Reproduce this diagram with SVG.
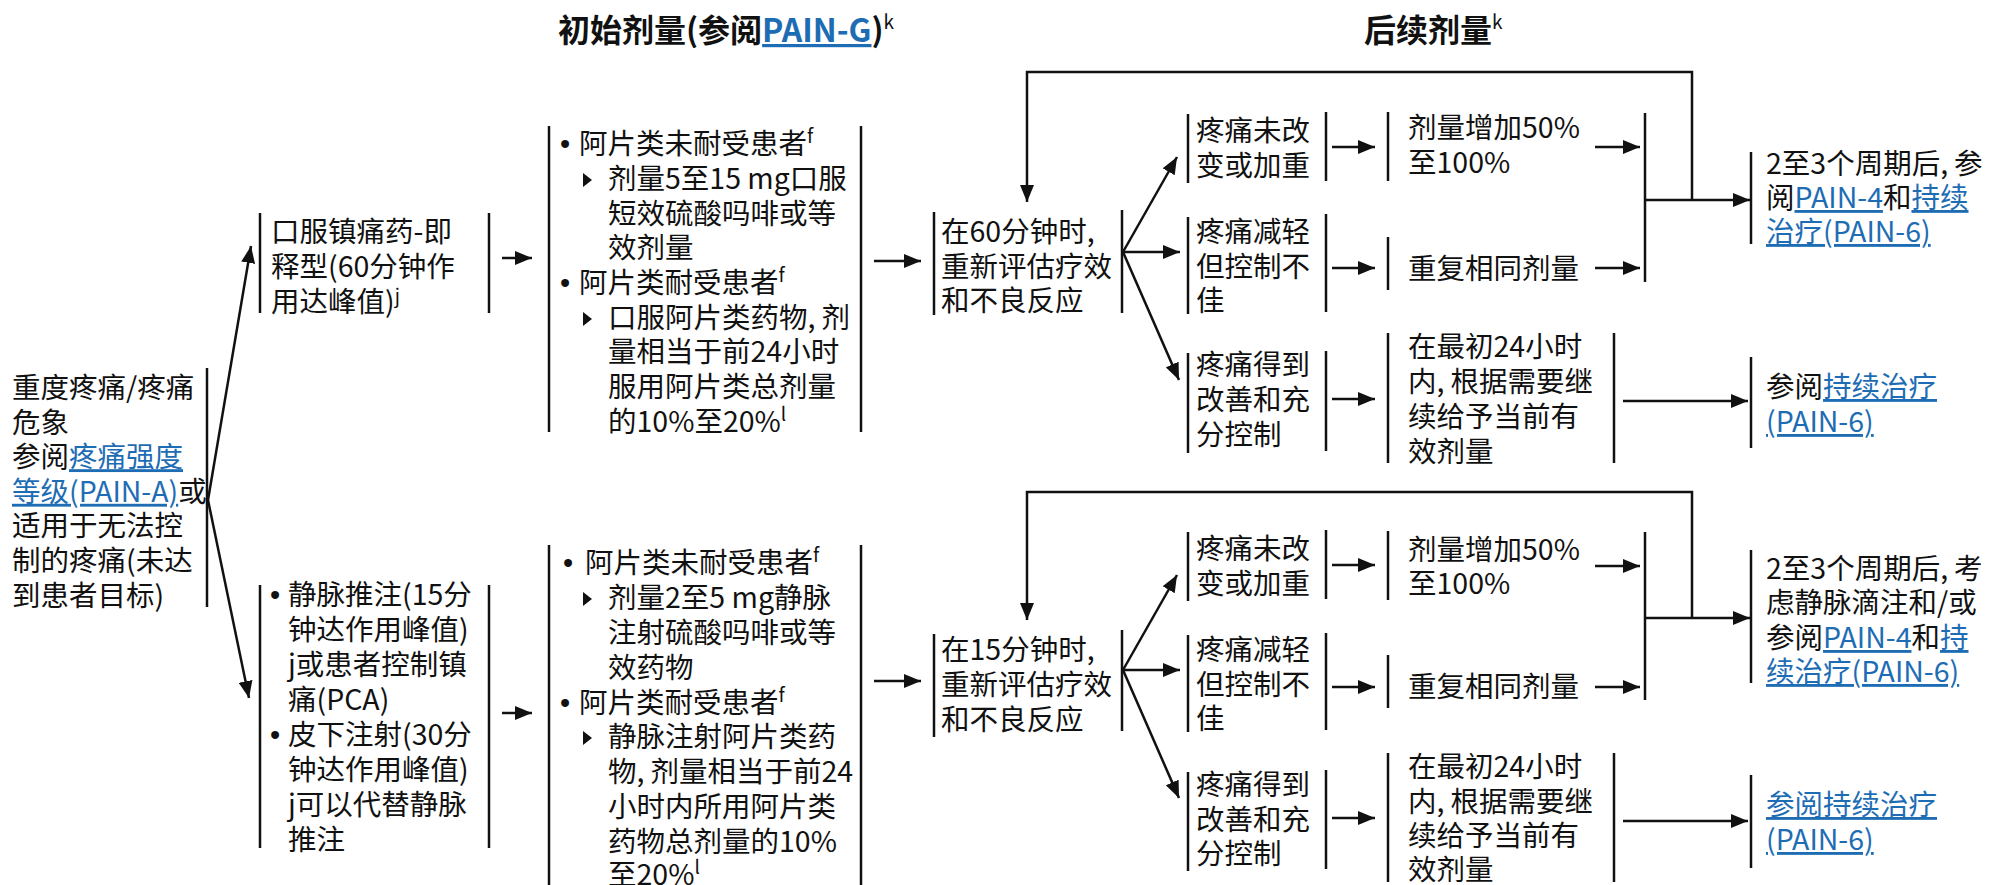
<svg xmlns="http://www.w3.org/2000/svg" width="1992" height="885" viewBox="0 0 1992 885">
<defs>
<style>
text{font-family:"Noto Sans CJK SC","Noto Sans",sans-serif;font-size:28.5px;fill:#111}
.h{font-size:32px;font-weight:bold}
.lk{fill:#1e6db4;text-decoration:underline}
.sup{font-size:19px}
.bul{font-family:"Liberation Sans",Arial,sans-serif;font-size:29px}
.bar{stroke:#111;stroke-width:2.5;fill:none}
.tri{fill:#111}
#connectors line,#connectors polyline{stroke:#111;stroke-width:2.5;fill:none;marker-end:url(#ah)}
</style>
<marker id="ah" markerUnits="userSpaceOnUse" markerWidth="18" markerHeight="14" refX="17" refY="7" orient="auto"><path d="M0,0 L17,7 L0,14 z" fill="#111"/></marker>
</defs>
<rect width="1992" height="885" fill="#fff"/>

<g id="titles">
<text class="h" x="558" y="42">初始剂量(参阅<tspan class="lk">PAIN-G</tspan>)<tspan class="sup" font-weight="normal" font-size="21px" dy="-13">k</tspan></text>
<text class="h" x="1364" y="42">后续剂量<tspan class="sup" font-weight="normal" font-size="21px" dy="-13">k</tspan></text>
</g>

<g id="node-severe">
<line class="bar" x1="207" y1="368" x2="207" y2="607"/>
<text x="12" y="398">重度疼痛/疼痛</text>
<text x="12" y="432.6">危象</text>
<text x="12" y="467.2">参阅<tspan class="lk">疼痛强度</tspan></text>
<text x="12" y="501.8"><tspan class="lk">等级(PAIN-A)</tspan>或</text>
<text x="12" y="536.4">适用于无法控</text>
<text x="12" y="571">制的疼痛(未达</text>
<text x="12" y="605.6">到患者目标)</text>
</g>

<g id="node-oral">
<line class="bar" x1="260" y1="213" x2="260" y2="313"/>
<line class="bar" x1="489" y1="213" x2="489" y2="313"/>
<text x="271" y="242">口服镇痛药-即</text>
<text x="271" y="277">释型(60分钟作</text>
<text x="271" y="312">用达峰值)<tspan class="sup" dy="-9">j</tspan></text>
</g>

<g id="node-iv">
<line class="bar" x1="260" y1="585" x2="260" y2="848"/>
<line class="bar" x1="489" y1="585" x2="489" y2="848"/>
<text class="bul" x="270" y="605">•</text><text x="288" y="605">静脉推注(15分</text>
<text x="288" y="640">钟达作用峰值)</text>
<text x="288" y="675">j或患者控制镇</text>
<text x="288" y="710">痛(PCA)</text>
<text class="bul" x="270" y="745">•</text><text x="288" y="745">皮下注射(30分</text>
<text x="288" y="780">钟达作用峰值)</text>
<text x="288" y="815">j可以代替静脉</text>
<text x="288" y="850">推注</text>
</g>

<g id="node-dose-oral">
<line class="bar" x1="549" y1="126" x2="549" y2="432"/>
<line class="bar" x1="861" y1="126" x2="861" y2="432"/>
<text class="bul" x="560" y="154">•</text><text x="579" y="154">阿片类未耐受患者<tspan class="sup" dy="-11">f</tspan></text>
<polygon class="tri" points="583,173 592,180 583,187"/>
<text x="608" y="189">剂量5至15 mg口服</text>
<text x="608" y="224">短效硫酸吗啡或等</text>
<text x="608" y="258">效剂量</text>
<text class="bul" x="560" y="293">•</text><text x="579" y="293">阿片类耐受患者<tspan class="sup" dy="-11">f</tspan></text>
<polygon class="tri" points="583,312 592,319 583,326"/>
<text x="608" y="328">口服阿片类药物,<tspan dx="6">剂</tspan></text>
<text x="608" y="362">量相当于前24小时</text>
<text x="608" y="397">服用阿片类总剂量</text>
<text x="608" y="432">的10%至20%<tspan class="sup" dy="-11">l</tspan></text>
</g>

<g id="node-dose-iv">
<line class="bar" x1="549" y1="545" x2="549" y2="885"/>
<line class="bar" x1="861" y1="545" x2="861" y2="885"/>
<text class="bul" x="563" y="573">•</text><text x="585" y="573">阿片类未耐受患者<tspan class="sup" dy="-11">f</tspan></text>
<polygon class="tri" points="583,592 592,599 583,606"/>
<text x="608" y="608">剂量2至5 mg静脉</text>
<text x="608" y="643">注射硫酸吗啡或等</text>
<text x="608" y="678">效药物</text>
<text class="bul" x="560" y="713">•</text><text x="579" y="713">阿片类耐受患者<tspan class="sup" dy="-11">f</tspan></text>
<polygon class="tri" points="583,731 592,738 583,745"/>
<text x="608" y="747">静脉注射阿片类药</text>
<text x="608" y="782">物,<tspan dx="6">剂量相当于前24</tspan></text>
<text x="608" y="817">小时内所用阿片类</text>
<text x="608" y="852">药物总剂量的10%</text>
<text x="608" y="885">至20%<tspan class="sup" dy="-11">l</tspan></text>
</g>

<g id="node-reassess-60">
<line class="bar" x1="934" y1="212" x2="934" y2="315"/>
<line class="bar" x1="1122" y1="210" x2="1122" y2="313"/>
<text x="941" y="242">在60分钟时,</text>
<text x="941" y="277">重新评估疗效</text>
<text x="941" y="311">和不良反应</text>
</g>

<g id="node-reassess-15">
<line class="bar" x1="934" y1="634" x2="934" y2="737"/>
<line class="bar" x1="1122" y1="630" x2="1122" y2="731"/>
<text x="941" y="660">在15分钟时,</text>
<text x="941" y="695">重新评估疗效</text>
<text x="941" y="730">和不良反应</text>
</g>

<g id="node-t-worse">
<line class="bar" x1="1188" y1="114" x2="1188" y2="183"/>
<line class="bar" x1="1326" y1="112" x2="1326" y2="181"/>
<text x="1196" y="141">疼痛未改</text>
<text x="1196" y="176">变或加重</text>
</g>
<g id="node-t-partial">
<line class="bar" x1="1188" y1="217" x2="1188" y2="314"/>
<line class="bar" x1="1326" y1="214" x2="1326" y2="312"/>
<text x="1196" y="242">疼痛减轻</text>
<text x="1196" y="277">但控制不</text>
<text x="1196" y="311">佳</text>
</g>
<g id="node-t-good">
<line class="bar" x1="1188" y1="353" x2="1188" y2="453"/>
<line class="bar" x1="1326" y1="351" x2="1326" y2="451"/>
<text x="1196" y="375">疼痛得到</text>
<text x="1196" y="410">改善和充</text>
<text x="1196" y="445">分控制</text>
</g>

<g id="node-b-worse">
<line class="bar" x1="1188" y1="532" x2="1188" y2="601"/>
<line class="bar" x1="1326" y1="530" x2="1326" y2="599"/>
<text x="1196" y="559">疼痛未改</text>
<text x="1196" y="594">变或加重</text>
</g>
<g id="node-b-partial">
<line class="bar" x1="1188" y1="635" x2="1188" y2="732"/>
<line class="bar" x1="1326" y1="633" x2="1326" y2="730"/>
<text x="1196" y="660">疼痛减轻</text>
<text x="1196" y="695">但控制不</text>
<text x="1196" y="729">佳</text>
</g>
<g id="node-b-good">
<line class="bar" x1="1188" y1="772" x2="1188" y2="871"/>
<line class="bar" x1="1326" y1="770" x2="1326" y2="869"/>
<text x="1196" y="795">疼痛得到</text>
<text x="1196" y="830">改善和充</text>
<text x="1196" y="864">分控制</text>
</g>

<g id="node-t-increase">
<line class="bar" x1="1388" y1="112" x2="1388" y2="181"/>
<text x="1408" y="138">剂量增加50%</text>
<text x="1408" y="173">至100%</text>
</g>
<g id="node-t-repeat">
<line class="bar" x1="1388" y1="237" x2="1388" y2="290"/>
<text x="1408" y="279">重复相同剂量</text>
</g>
<g id="node-t-merge">
<line class="bar" x1="1645" y1="113" x2="1645" y2="282"/>
</g>
<g id="node-t-continue">
<line class="bar" x1="1388" y1="333" x2="1388" y2="463"/>
<line class="bar" x1="1614" y1="333" x2="1614" y2="463"/>
<text x="1408" y="357">在最初24小时</text>
<text x="1408" y="392">内,<tspan dx="6">根据需要继</tspan></text>
<text x="1408" y="427">续给予当前有</text>
<text x="1408" y="462">效剂量</text>
</g>

<g id="node-b-increase">
<line class="bar" x1="1388" y1="531" x2="1388" y2="600"/>
<text x="1408" y="560">剂量增加50%</text>
<text x="1408" y="594">至100%</text>
</g>
<g id="node-b-repeat">
<line class="bar" x1="1388" y1="655" x2="1388" y2="708"/>
<text x="1408" y="697">重复相同剂量</text>
</g>
<g id="node-b-merge">
<line class="bar" x1="1645" y1="532" x2="1645" y2="700"/>
</g>
<g id="node-b-continue">
<line class="bar" x1="1388" y1="753" x2="1388" y2="882"/>
<line class="bar" x1="1614" y1="753" x2="1614" y2="882"/>
<text x="1408" y="777">在最初24小时</text>
<text x="1408" y="812">内,<tspan dx="6">根据需要继</tspan></text>
<text x="1408" y="846">续给予当前有</text>
<text x="1408" y="880">效剂量</text>
</g>

<g id="node-t-out1">
<line class="bar" x1="1751" y1="152" x2="1751" y2="244"/>
<text x="1766" y="174">2至3个周期后,<tspan dx="6">参</tspan></text>
<text x="1766" y="208">阅<tspan class="lk">PAIN-4</tspan>和<tspan class="lk">持续</tspan></text>
<text x="1766" y="242"><tspan class="lk">治疗(PAIN-6)</tspan></text>
</g>
<g id="node-t-out2">
<line class="bar" x1="1751" y1="357" x2="1751" y2="448"/>
<text x="1766" y="397">参阅<tspan class="lk">持续治疗</tspan></text>
<text x="1766" y="432"><tspan class="lk">(PAIN-6)</tspan></text>
</g>
<g id="node-b-out1">
<line class="bar" x1="1751" y1="550" x2="1751" y2="683"/>
<text x="1766" y="579">2至3个周期后,<tspan dx="6">考</tspan></text>
<text x="1766" y="613">虑静脉滴注和/或</text>
<text x="1766" y="648">参阅<tspan class="lk">PAIN-4</tspan>和<tspan class="lk">持</tspan></text>
<text x="1766" y="682"><tspan class="lk">续治疗(PAIN-6)</tspan></text>
</g>
<g id="node-b-out2">
<line class="bar" x1="1751" y1="775" x2="1751" y2="868"/>
<text x="1766" y="815"><tspan class="lk">参阅持续治疗</tspan></text>
<text x="1766" y="850"><tspan class="lk">(PAIN-6)</tspan></text>
</g>

<g id="connectors">
<line x1="208" y1="500" x2="251" y2="246"/>
<line x1="208" y1="500" x2="249" y2="698"/>
<line x1="502" y1="258" x2="532" y2="258"/>
<line x1="502" y1="713" x2="532" y2="713"/>
<line x1="874" y1="261" x2="921" y2="261"/>
<line x1="874" y1="681" x2="921" y2="681"/>
<line x1="1123" y1="252" x2="1177" y2="157"/>
<line x1="1123" y1="252" x2="1180" y2="252"/>
<line x1="1123" y1="252" x2="1179" y2="380"/>
<line x1="1123" y1="670" x2="1177" y2="575"/>
<line x1="1123" y1="670" x2="1180" y2="670"/>
<line x1="1123" y1="670" x2="1179" y2="798"/>
<line x1="1332" y1="147" x2="1375" y2="147"/>
<line x1="1332" y1="268" x2="1375" y2="268"/>
<line x1="1332" y1="399" x2="1375" y2="399"/>
<line x1="1332" y1="565" x2="1375" y2="565"/>
<line x1="1332" y1="687" x2="1375" y2="687"/>
<line x1="1332" y1="818" x2="1375" y2="818"/>
<line x1="1595" y1="147" x2="1640" y2="147"/>
<line x1="1595" y1="268" x2="1640" y2="268"/>
<line x1="1595" y1="566" x2="1640" y2="566"/>
<line x1="1595" y1="687" x2="1640" y2="687"/>
<line x1="1645" y1="200" x2="1750" y2="200"/>
<line x1="1645" y1="618" x2="1750" y2="618"/>
<line x1="1623" y1="401" x2="1748" y2="401"/>
<line x1="1623" y1="821" x2="1748" y2="821"/>
<polyline points="1692,200 1692,72 1027,72 1027,202"/>
<polyline points="1692,618 1692,492 1027,492 1027,620"/>
</g>
</svg>
